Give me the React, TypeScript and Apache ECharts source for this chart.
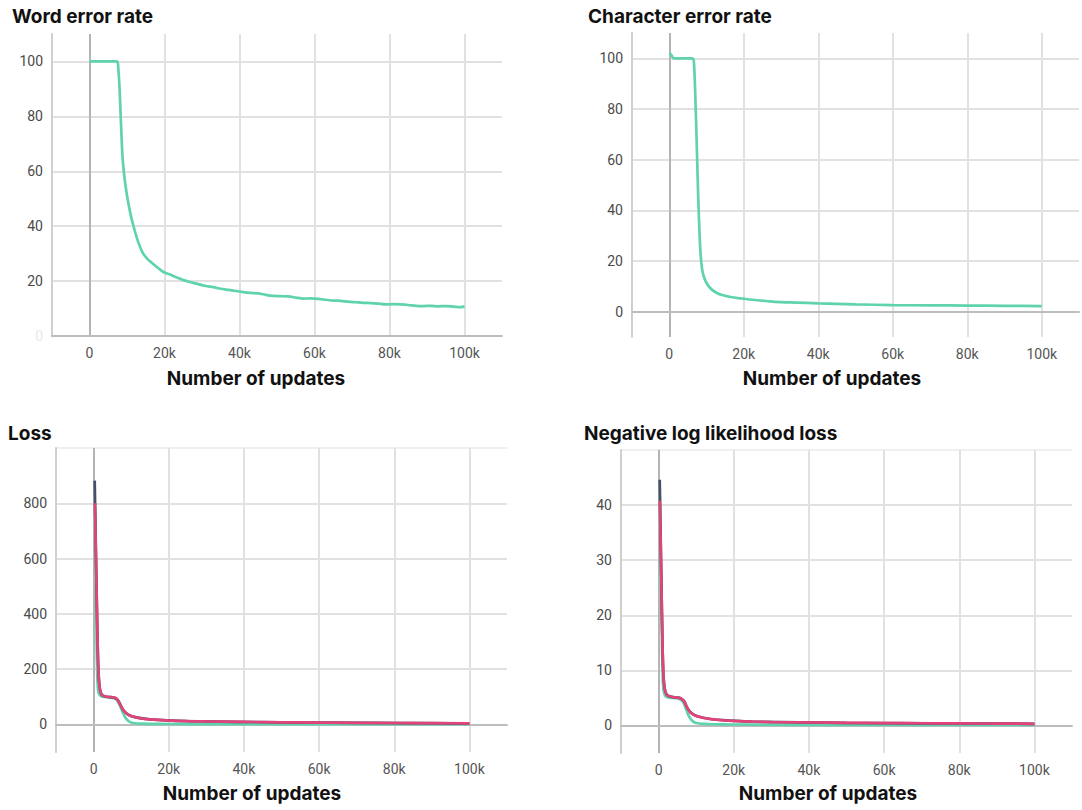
import React, { useEffect, useRef } from "react";
import * as echarts from "echarts";

// ---------- Data ----------
const werSteps = [0, 2000, 4000, 6000, 7400, 7700, 8000, 8350, 8700, 9000, 9400, 9800, 10200, 11000, 12000, 13000, 14200, 15500, 16500, 17700, 19000, 20000, 21500, 23000, 25000, 27000, 29000, 31000, 33000, 35000, 37000, 39000, 41000, 43000, 45000, 47000, 49000, 51000, 53000, 55000, 57000, 59000, 61000, 63000, 65000, 67000, 69000, 71000, 73000, 75000, 77000, 79000, 81000, 83000, 85000, 87000, 89000, 91000, 93000, 95000, 97000, 99000, 100000];
const werValues = [100, 100, 100, 100, 100, 97, 90.7, 79, 67.8, 62, 56.9, 53, 49.6, 44, 38.7, 34.2, 30.3, 28, 26.8, 25.4, 24, 23.1, 22.4, 21.5, 20.4, 19.6, 18.9, 18.2, 17.8, 17.2, 16.8, 16.4, 16.0, 15.7, 15.5, 15.0, 14.6, 14.5, 14.4, 14.0, 13.6, 13.7, 13.5, 13.2, 12.9, 12.8, 12.5, 12.3, 12.1, 12.0, 11.8, 11.5, 11.6, 11.5, 11.3, 11.0, 10.9, 11.0, 10.8, 10.9, 10.7, 10.5, 10.8];

const cerSteps = [0, 500, 1000, 1500, 2000, 4000, 6200, 6600, 7000, 7400, 7800, 8100, 8400, 8800, 9300, 10200, 11500, 12800, 14200, 16500, 19500, 23000, 28400, 34000, 40000, 50000, 60000, 70000, 80000, 90000, 100000];
const cerValues = [102, 101.5, 100.2, 100, 100, 100, 100, 99, 85, 65, 44, 32, 23, 17, 13.8, 10.8, 8.6, 7.4, 6.6, 5.8, 5.2, 4.6, 3.9, 3.6, 3.3, 2.9, 2.6, 2.5, 2.4, 2.3, 2.2];

const lossTealSteps = [300, 500, 700, 900, 1100, 1300, 1600, 2000, 2500, 3500, 4500, 5500, 6200, 6800, 7300, 7800, 8400, 9100, 10000, 11000, 12500, 15000, 20000, 30000, 50000, 100000];
const lossTealValues = [790, 600, 380, 220, 140, 115, 106, 102, 100, 98, 97, 94, 88, 74, 58, 42, 26, 14, 7, 4, 2.5, 1.8, 1.3, 1, 0.7, 0.4];
const lossNavySteps = [300, 400, 700, 900, 1100, 1300, 1600, 2000, 2500, 3500, 5500, 6200, 6800, 7800, 9100, 11000, 15000, 25000, 50000, 100000];
const lossNavyValues = [882, 800, 560, 411, 280, 190, 135, 112, 104, 100, 97, 92, 80, 54, 36, 26, 18, 12, 7.5, 3.6];
const lossRedSteps = [350, 500, 700, 900, 1100, 1300, 1600, 2000, 2500, 3500, 4500, 5500, 6200, 6800, 7300, 7800, 8400, 9100, 10000, 11000, 12500, 15000, 19000, 25000, 30000, 40000, 50000, 60000, 70000, 80000, 90000, 100000];
const lossRedValues = [800, 700, 560, 411, 280, 190, 135, 112, 104, 100, 99, 97, 92, 80, 66, 54, 44, 36, 30, 26, 22, 18, 14.5, 12, 10.5, 9, 7.5, 6.5, 5.5, 5, 4.3, 3.6];

const nllTealSteps = [300, 500, 700, 900, 1100, 1300, 1600, 2000, 2500, 3500, 4500, 5500, 6200, 6800, 7300, 7800, 8400, 9200, 10000, 12000, 15000, 20000, 40000, 100000];
const nllTealValues = [40, 32, 24, 15, 9, 6.5, 5.6, 5.2, 5.1, 5.0, 4.95, 4.8, 4.5, 3.9, 3.0, 2.1, 1.3, 0.7, 0.45, 0.3, 0.22, 0.17, 0.12, 0.08];
const nllNavySteps = [300, 400, 700, 900, 1100, 1300, 1600, 2000, 2500, 3500, 5500, 6200, 6800, 7800, 9200, 11800, 17000, 25000, 50000, 100000];
const nllNavyValues = [44.6, 40.8, 28, 20, 13, 9, 6.8, 5.8, 5.4, 5.2, 5.0, 4.8, 4.4, 3.0, 2.0, 1.4, 0.95, 0.7, 0.48, 0.3];
const nllRedSteps = [350, 500, 700, 900, 1100, 1300, 1600, 2000, 2500, 3500, 4500, 5500, 6200, 6800, 7300, 7800, 8400, 9200, 10000, 11800, 14000, 17000, 20000, 25000, 30000, 40000, 50000, 60000, 70000, 80000, 90000, 100000];
const nllRedValues = [40.8, 35, 28, 20, 13, 9, 6.8, 5.8, 5.4, 5.2, 5.1, 5.0, 4.8, 4.4, 3.7, 3.0, 2.4, 2.0, 1.7, 1.4, 1.15, 0.95, 0.82, 0.7, 0.62, 0.55, 0.48, 0.43, 0.4, 0.37, 0.34, 0.3];

const titles = ["Word error rate", "Character error rate", "Loss", "Negative log likelihood loss"];
const xAxisTitle = "Number of updates";

// ---------- Style ----------
const TEAL = "#5fd3ad";
const RED = "#e2437a";
const NAVY = "#46506a";
const GRID = "#e1e1e1";
const ZERO = "#b4b4b4";
const CLEAR = "rgba(0,0,0,0)";

const zip = (xs: number[], ys: number[]) => xs.map((x, i) => [x, ys[i]]);

const lineColors = (min: number, max: number, step: number, major: number, zero: boolean, topColor = CLEAR) => {
  const out: string[] = [];
  for (let v = min; v <= max + 1e-9; v += step) {
    const r = Math.round(v * 1000) / 1000;
    if (r === 0 && zero) out.push(ZERO);
    else if (r === max) out.push(topColor);
    else if (r !== min && Math.abs(r % major) < 1e-9 && r !== 0) out.push(GRID);
    else out.push(CLEAR);
  }
  return out;
};

const grids = [
  { left: 52, top: 34, width: 450, height: 302 },
  { left: 632, top: 33, width: 449, height: 304 },
  { left: 56, top: 448, width: 451, height: 304 },
  { left: 621, top: 450, width: 451, height: 303 },
];

const yCfg = [
  { min: 0, max: 110, step: 10, major: 20, zero: false, top: CLEAR },
  { min: -10, max: 110, step: 10, major: 20, zero: true, top: CLEAR },
  { min: -100, max: 1000, step: 100, major: 200, zero: true, top: "#efefef" },
  { min: -5, max: 50, step: 5, major: 10, zero: true, top: "#efefef" },
];

const tickFont = { fontFamily: "Roboto", fontSize: 14 };

export default function App() {
  const ref = useRef<HTMLDivElement>(null);
  useEffect(() => {
    if (!ref.current) return;
    const chart = echarts.init(ref.current, undefined, { renderer: "svg" });

    const xAxes = grids.map((_, i) => ({
      type: "value",
      gridIndex: i,
      min: -10000,
      max: 110000,
      interval: 10000,
      axisLine: { show: true, lineStyle: { color: "#bdbdbd", width: 2 } },
      axisTick: { show: false },
      splitLine: { show: true, lineStyle: { width: 2, color: lineColors(-10000, 110000, 10000, 20000, true) } },
      axisLabel: {
        ...tickFont,
        margin: 10,
        color: (v: number) => (v === 100000 ? "#9a9a9a" : "#555555"),
        formatter: (v: number) => (v % 20000 === 0 && v >= 0 && v <= 100000 ? (v === 0 ? "0" : v / 1000 + "k") : ""),
      },
    }));

    const yAxes = yCfg.map((c, i) => ({
      type: "value",
      gridIndex: i,
      min: c.min,
      max: c.max,
      interval: c.step,
      axisLine: { show: true, onZero: false, lineStyle: { color: "#cfcfcf", width: 2 } },
      axisTick: { show: false },
      splitLine: { show: true, lineStyle: { width: 2, color: lineColors(c.min, c.max, c.step, c.major, c.zero, c.top) } },
      axisLabel: {
        ...tickFont,
        margin: 9,
        color: (v: number) => (i === 0 && Number(v) === 0 ? "#e8e8e8" : "#4a4a4a"),
        formatter: (v: number) => {
          const r = Math.round(v * 1000) / 1000;
          if (r < 0 || r >= c.max) return "";
          if (Math.abs(r % c.major) > 1e-9) return "";
          return String(r);
        },
      },
    }));

    const mk = (data: number[][], color: string, idx: number, z: number) => ({
      type: "line",
      xAxisIndex: idx,
      yAxisIndex: idx,
      data,
      showSymbol: false,
      smooth: 0.25,
      z,
      lineStyle: { color, width: 2.7 },
      itemStyle: { color },
    });

    const series = [
      mk(zip(werSteps, werValues), TEAL, 0, 3),
      mk(zip(cerSteps, cerValues), TEAL, 1, 3),
      mk(zip(lossTealSteps, lossTealValues), TEAL, 2, 3),
      mk(zip(lossNavySteps, lossNavyValues), NAVY, 2, 4),
      mk(zip(lossRedSteps, lossRedValues), RED, 2, 5),
      mk(zip(nllTealSteps, nllTealValues), TEAL, 3, 3),
      mk(zip(nllNavySteps, nllNavyValues), NAVY, 3, 4),
      mk(zip(nllRedSteps, nllRedValues), RED, 3, 5),
    ];

    const titlePos = [
      [12, 16],
      [588, 16],
      [8, 433],
      [584, 433],
    ];
    const namePos = [
      [256, 378],
      [832, 378],
      [252, 793],
      [828, 793],
    ];
    const graphic: any[] = [];
    titles.forEach((t, i) => {
      graphic.push({
        type: "text",
        x: titlePos[i][0],
        y: titlePos[i][1],
        style: {
          text: t,
          fontFamily: "Inter",
          fontWeight: 700,
          fontSize: 19,
          fill: "#111",
          textAlign: "left",
          textVerticalAlign: "middle",
          align: "left",
          verticalAlign: "middle",
        },
      });
      graphic.push({
        type: "text",
        x: namePos[i][0],
        y: namePos[i][1],
        style: {
          text: xAxisTitle,
          fontFamily: "Inter",
          fontWeight: 700,
          fontSize: 19,
          fill: "#111",
          textAlign: "center",
          textVerticalAlign: "middle",
          align: "center",
          verticalAlign: "middle",
        },
      });
    });

    chart.setOption({
      animation: false,
      backgroundColor: "#ffffff",
      grid: grids,
      xAxis: xAxes,
      yAxis: yAxes,
      series,
      graphic,
    });
    return () => chart.dispose();
  }, []);

  return (
    <div
      ref={ref}
      style={{ position: "absolute", left: 0, top: 0, width: 1082, height: 810 }}
    />
  );
}
